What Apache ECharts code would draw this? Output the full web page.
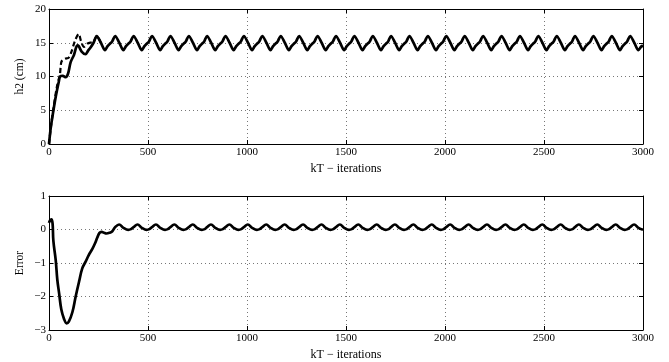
<!DOCTYPE html>
<html>
<head>
<meta charset="utf-8">
<script src="https://cdn.jsdelivr.net/npm/echarts@6/dist/echarts.min.js"></script>
<style>
  html, body { margin: 0; padding: 0; background: #fff; }
  #chart { width: 669px; height: 362px; }
</style>
</head>
<body>
<div id="chart"></div>
<script>
// x ticks shared by both panels
const xTicks = [0, 500, 1000, 1500, 2000, 2500, 3000];
const h2Ticks = [0, 5, 10, 15, 20];
const errTicks = [-3, -2, -1, 0, 1];

const h2Measured = [
  [0, 0], [8, 2.2], [17, 4], [34, 7], [50, 9.3], [56, 10], [70, 10.1], [84, 9.9], [96, 10.4],
  [109, 12.1], [126, 13.2], [143, 14.6], [150, 14.5], [165, 13.7], [185, 13.3], [197, 13.8],
  [210, 14.3], [225, 15.0],
  [241, 16], [262, 15], [283, 13.9], [296, 14.5], [306, 14.8], [319, 15.2],
  [334, 16], [355, 15], [376, 13.9], [389, 14.5], [399, 14.8], [412, 15.2],
  [427, 16], [448, 15], [469, 13.9], [482, 14.5], [492, 14.8], [505, 15.2],
  [520, 16], [541, 15], [562, 13.9], [575, 14.5], [585, 14.8], [598, 15.2],
  [613, 16], [634, 15], [655, 13.9], [668, 14.5], [678, 14.8], [691, 15.2],
  [706, 16], [727, 15], [748, 13.9], [761, 14.5], [771, 14.8], [784, 15.2],
  [798, 16], [819, 15], [840, 13.9], [853, 14.5], [863, 14.8], [876, 15.2],
  [891, 16], [912, 15], [933, 13.9], [946, 14.5], [956, 14.8], [969, 15.2],
  [984, 16], [1005, 15], [1026, 13.9], [1039, 14.5], [1049, 14.8], [1062, 15.2],
  [1077, 16], [1098, 15], [1119, 13.9], [1132, 14.5], [1142, 14.8], [1155, 15.2],
  [1170, 16], [1191, 15], [1212, 13.9], [1225, 14.5], [1235, 14.8], [1248, 15.2],
  [1263, 16], [1284, 15], [1305, 13.9], [1318, 14.5], [1328, 14.8], [1341, 15.2],
  [1356, 16], [1377, 15], [1398, 13.9], [1411, 14.5], [1421, 14.8], [1434, 15.2],
  [1449, 16], [1470, 15], [1491, 13.9], [1504, 14.5], [1514, 14.8], [1527, 15.2],
  [1542, 16], [1563, 15], [1584, 13.9], [1597, 14.5], [1607, 14.8], [1620, 15.2],
  [1635, 16], [1656, 15], [1677, 13.9], [1690, 14.5], [1700, 14.8], [1713, 15.2],
  [1727, 16], [1748, 15], [1769, 13.9], [1782, 14.5], [1792, 14.8], [1805, 15.2],
  [1820, 16], [1841, 15], [1862, 13.9], [1875, 14.5], [1885, 14.8], [1898, 15.2],
  [1913, 16], [1934, 15], [1955, 13.9], [1968, 14.5], [1978, 14.8], [1991, 15.2],
  [2006, 16], [2027, 15], [2048, 13.9], [2061, 14.5], [2071, 14.8], [2084, 15.2],
  [2099, 16], [2120, 15], [2141, 13.9], [2154, 14.5], [2164, 14.8], [2177, 15.2],
  [2192, 16], [2213, 15], [2234, 13.9], [2247, 14.5], [2257, 14.8], [2270, 15.2],
  [2285, 16], [2306, 15], [2327, 13.9], [2340, 14.5], [2350, 14.8], [2363, 15.2],
  [2378, 16], [2399, 15], [2420, 13.9], [2433, 14.5], [2443, 14.8], [2456, 15.2],
  [2471, 16], [2492, 15], [2513, 13.9], [2526, 14.5], [2536, 14.8], [2549, 15.2],
  [2564, 16], [2585, 15], [2606, 13.9], [2619, 14.5], [2629, 14.8], [2642, 15.2],
  [2656, 16], [2677, 15], [2698, 13.9], [2711, 14.5], [2721, 14.8], [2734, 15.2],
  [2749, 16], [2770, 15], [2791, 13.9], [2804, 14.5], [2814, 14.8], [2827, 15.2],
  [2842, 16], [2863, 15], [2884, 13.9], [2897, 14.5], [2907, 14.8], [2920, 15.2],
  [2935, 16], [2956, 15], [2977, 13.9], [2990, 14.4], [3000, 14.6]
];

// dashed trace, only visible during the start-up
const h2Dashed = [
  [0, 0], [10, 2.6], [20, 4.8], [40, 8.5], [55, 10.3], [63, 12.2], [80, 12.6], [100, 12.8],
  [115, 13.8], [130, 15.2], [150, 16.3], [162, 15.2], [177, 14.4], [195, 14.9], [225, 15.2],
  [241, 16], [262, 15]
];

// error signal
const errorValues = [
  [0, 0.2], [5, 0.27], [12, 0.3], [18, 0.18], [22, -0.33], [34, -0.92], [42, -1.5], [51, -1.9],
  [62, -2.38], [76, -2.67], [89, -2.8], [100, -2.75], [118, -2.47], [135, -1.99], [152, -1.55],
  [168, -1.16], [185, -0.96], [200, -0.77], [219, -0.58], [232, -0.42], [244, -0.24],
  [255, -0.1], [266, -0.07], [278, -0.1], [290, -0.12], [305, -0.1], [320, -0.05],
  [334, 0.07], [354, 0.15], [376, 0.05], [400, -0.01], [414, 0.01],
  [427, 0.07], [447, 0.15], [469, 0.05], [493, -0.01], [507, 0.01],
  [520, 0.07], [540, 0.15], [562, 0.05], [586, -0.01], [600, 0.01],
  [613, 0.07], [633, 0.15], [655, 0.05], [679, -0.01], [693, 0.01],
  [706, 0.07], [726, 0.15], [748, 0.05], [772, -0.01], [786, 0.01],
  [798, 0.07], [818, 0.15], [840, 0.05], [864, -0.01], [878, 0.01],
  [891, 0.07], [911, 0.15], [933, 0.05], [957, -0.01], [971, 0.01],
  [984, 0.07], [1004, 0.15], [1026, 0.05], [1050, -0.01], [1064, 0.01],
  [1077, 0.07], [1097, 0.15], [1119, 0.05], [1143, -0.01], [1157, 0.01],
  [1170, 0.07], [1190, 0.15], [1212, 0.05], [1236, -0.01], [1250, 0.01],
  [1263, 0.07], [1283, 0.15], [1305, 0.05], [1329, -0.01], [1343, 0.01],
  [1356, 0.07], [1376, 0.15], [1398, 0.05], [1422, -0.01], [1436, 0.01],
  [1449, 0.07], [1469, 0.15], [1491, 0.05], [1515, -0.01], [1529, 0.01],
  [1542, 0.07], [1562, 0.15], [1584, 0.05], [1608, -0.01], [1622, 0.01],
  [1635, 0.07], [1655, 0.15], [1677, 0.05], [1701, -0.01], [1715, 0.01],
  [1727, 0.07], [1747, 0.15], [1769, 0.05], [1793, -0.01], [1807, 0.01],
  [1820, 0.07], [1840, 0.15], [1862, 0.05], [1886, -0.01], [1900, 0.01],
  [1913, 0.07], [1933, 0.15], [1955, 0.05], [1979, -0.01], [1993, 0.01],
  [2006, 0.07], [2026, 0.15], [2048, 0.05], [2072, -0.01], [2086, 0.01],
  [2099, 0.07], [2119, 0.15], [2141, 0.05], [2165, -0.01], [2179, 0.01],
  [2192, 0.07], [2212, 0.15], [2234, 0.05], [2258, -0.01], [2272, 0.01],
  [2285, 0.07], [2305, 0.15], [2327, 0.05], [2351, -0.01], [2365, 0.01],
  [2378, 0.07], [2398, 0.15], [2420, 0.05], [2444, -0.01], [2458, 0.01],
  [2471, 0.07], [2491, 0.15], [2513, 0.05], [2537, -0.01], [2551, 0.01],
  [2564, 0.07], [2584, 0.15], [2606, 0.05], [2630, -0.01], [2644, 0.01],
  [2656, 0.07], [2676, 0.15], [2698, 0.05], [2722, -0.01], [2736, 0.01],
  [2749, 0.07], [2769, 0.15], [2791, 0.05], [2815, -0.01], [2829, 0.01],
  [2842, 0.07], [2862, 0.15], [2884, 0.05], [2908, -0.01], [2922, 0.01],
  [2935, 0.07], [2955, 0.15], [2977, 0.05], [3000, -0.01]
];

const FONT = "Liberation Serif";
const plain = (v) => String(v).replace("-", "\u2212");

const grids = [
  { left: 49, right: 26, top: 9, height: 135 },
  { left: 49, right: 26, top: 196, height: 137 }
];

function xAxisFor(gridIndex) {
  return [
    {
      type: "value", gridIndex, min: xTicks[0], max: xTicks[xTicks.length - 1], interval: 500,
      name: "kT \u2212 iterations", nameLocation: "middle", nameGap: 19, nameMoveOverlap: false,
      nameTextStyle: { fontFamily: FONT, fontSize: 12, color: "#000" },
      axisLine: { show: true, onZero: false, lineStyle: { color: "#000", width: 1 } },
      axisTick: { show: true, inside: true, length: 4, lineStyle: { color: "#000" } },
      axisLabel: { fontFamily: FONT, fontSize: 11, color: "#000", margin: 3, formatter: plain },
      splitLine: { show: true, lineStyle: { color: "#777", type: [1, 3], width: 1 } }
    },
    {
      type: "value", gridIndex, position: "top", min: 0, max: 3000, interval: 500,
      axisLine: { show: true, onZero: false, lineStyle: { color: "#000", width: 1 } },
      axisTick: { show: true, inside: true, length: 4, lineStyle: { color: "#000" } },
      axisLabel: { show: false }, splitLine: { show: false }
    }
  ];
}

function yAxisFor(gridIndex, ticks, name, gap) {
  const lo = ticks[0], hi = ticks[ticks.length - 1];
  return [
    {
      type: "value", gridIndex, min: lo, max: hi, interval: ticks[1] - ticks[0],
      name, nameLocation: "middle", nameGap: gap, nameMoveOverlap: false,
      nameTextStyle: { fontFamily: FONT, fontSize: 11.5, color: "#000" },
      axisLine: { show: true, onZero: false, lineStyle: { color: "#000", width: 1 } },
      axisTick: { show: true, inside: true, length: 4, lineStyle: { color: "#000" } },
      axisLabel: { fontFamily: FONT, fontSize: 11, color: "#000", margin: 3, formatter: plain },
      splitLine: { show: true, lineStyle: { color: "#777", type: [1, 3], width: 1 } }
    },
    {
      type: "value", gridIndex, position: "right", min: lo, max: hi, interval: ticks[1] - ticks[0],
      axisLine: { show: true, onZero: false, lineStyle: { color: "#000", width: 1 } },
      axisTick: { show: true, inside: true, length: 4, lineStyle: { color: "#000" } },
      axisLabel: { show: false }, splitLine: { show: false }
    }
  ];
}

const chart = echarts.init(document.getElementById("chart"), null, { renderer: "canvas" });

chart.setOption({
  animation: false,
  backgroundColor: "#fff",
  grid: grids,
  xAxis: [...xAxisFor(0), ...xAxisFor(1)],
  yAxis: [...yAxisFor(0, h2Ticks, "h2 (cm)", 23), ...yAxisFor(1, errTicks, "Error", 23)],
  series: [
    {
      name: "h2 dashed", type: "line", xAxisIndex: 0, yAxisIndex: 0, data: h2Dashed,
      showSymbol: false, smooth: 0.3,
      lineStyle: { color: "#000", width: 2.2, type: [5, 3] }
    },
    {
      name: "h2", type: "line", xAxisIndex: 0, yAxisIndex: 0, data: h2Measured,
      showSymbol: false, smooth: 0.3,
      lineStyle: { color: "#000", width: 2.7 }
    },
    {
      name: "Error", type: "line", xAxisIndex: 2, yAxisIndex: 2, data: errorValues,
      showSymbol: false, smooth: 0.4,
      lineStyle: { color: "#000", width: 2.7 }
    }
  ]
});
</script>
</body>
</html>
